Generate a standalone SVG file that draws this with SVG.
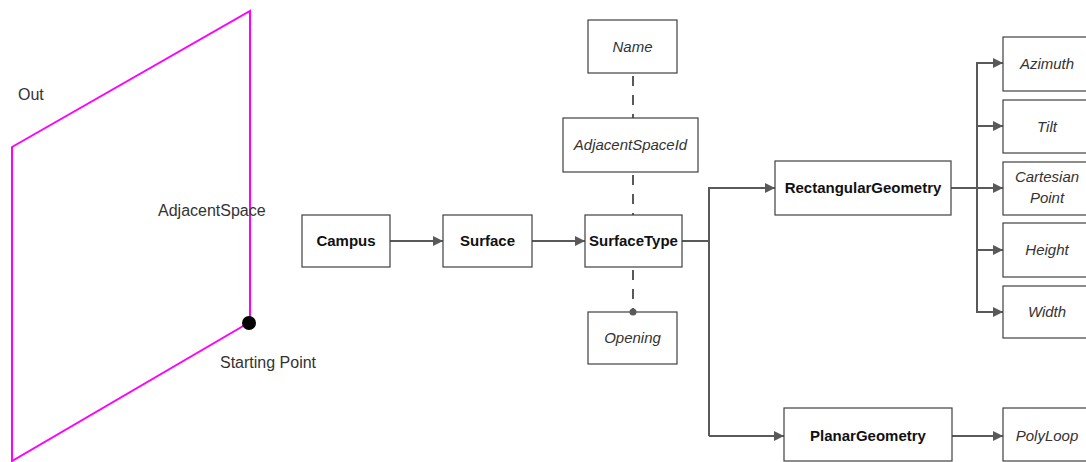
<svg xmlns="http://www.w3.org/2000/svg" width="1086" height="462" viewBox="0 0 1086 462">
<defs>
<marker id="ah" viewBox="0 0 10 10" refX="10" refY="5" markerWidth="5" markerHeight="5" orient="auto" markerUnits="strokeWidth">
<path d="M0,0 L10,5 L0,10 z" fill="#595959"/>
</marker>
<style>
.box{fill:#fff;stroke:#404040;stroke-width:1.2}
.t{font-family:"Liberation Sans",Arial,sans-serif;font-size:15px;fill:#262626;text-anchor:middle}
.b{font-weight:bold;fill:#111}
.i{font-style:italic;fill:#333}
.lbl{font-family:"Liberation Sans",Arial,sans-serif;font-size:16px;fill:#333}
.c{fill:none;stroke:#595959;stroke-width:2}
.d{fill:none;stroke:#595959;stroke-width:2;stroke-dasharray:10,9}
</style>
</defs>
<rect width="1086" height="462" fill="#fff"/>
<g id="adjacent-space-plane">
<polygon points="12,147 250,11 250,322 12,461" fill="none" stroke="#ff00ff" stroke-width="2"/>
<circle cx="249" cy="323" r="7" fill="#000"/>
<text class="lbl" x="18" y="100">Out</text>
<text class="lbl" x="158" y="216">AdjacentSpace</text>
<text class="lbl" x="220" y="368">Starting Point</text>
</g>
<g id="connectors">
<line class="c" x1="390" y1="241" x2="443" y2="241" marker-end="url(#ah)"/>
<line class="c" x1="532" y1="241" x2="585" y2="241" marker-end="url(#ah)"/>
<line class="d" x1="633" y1="76" x2="633" y2="118"/>
<line class="d" x1="633" y1="175" x2="633" y2="215"/>
<line class="d" x1="633" y1="270" x2="633" y2="312"/>
<line class="c" x1="682" y1="241" x2="709" y2="241" stroke-width="2.5"/>
<polyline class="c" points="709,436 709,188 775,188" marker-end="url(#ah)"/>
<line class="c" x1="709" y1="436" x2="784" y2="436" marker-end="url(#ah)"/>
<line class="c" x1="951" y1="188" x2="977" y2="188" stroke-width="2.5"/>
<line class="c" x1="977" y1="63" x2="977" y2="312"/>
<line class="c" x1="976" y1="63" x2="1003" y2="63" marker-end="url(#ah)"/>
<line class="c" x1="976" y1="126" x2="1003" y2="126" marker-end="url(#ah)"/>
<line class="c" x1="976" y1="188" x2="1003" y2="188" marker-end="url(#ah)"/>
<line class="c" x1="976" y1="250" x2="1003" y2="250" marker-end="url(#ah)"/>
<line class="c" x1="976" y1="312" x2="1003" y2="312" marker-end="url(#ah)"/>
<line class="c" x1="952" y1="436" x2="1003" y2="436" marker-end="url(#ah)"/>
</g>
<g id="campus"><rect class="box" x="302" y="215" width="88" height="52"/><text class="t b" x="346" y="246">Campus</text></g>
<g id="surface"><rect class="box" x="443" y="215" width="89" height="52"/><text class="t b" x="487.5" y="246">Surface</text></g>
<g id="surfacetype"><rect class="box" x="585" y="215" width="97" height="52"/><text class="t b" x="633.5" y="246">SurfaceType</text></g>
<g id="name"><rect class="box" x="588" y="20" width="89" height="53"/><text class="t i" x="632.5" y="52">Name</text></g>
<g id="adjacentspaceid"><rect class="box" x="563" y="118" width="135" height="54"/><text class="t i" x="630.5" y="150">AdjacentSpaceId</text></g>
<g id="opening"><rect class="box" x="588" y="312" width="89" height="52"/><text class="t i" x="632.5" y="343">Opening</text><circle cx="633" cy="312" r="3.5" fill="#595959"/></g>
<g id="rectangulargeometry"><rect class="box" x="775" y="161" width="176" height="54"/><text class="t b" x="863" y="193">RectangularGeometry</text></g>
<g id="planargeometry"><rect class="box" x="784" y="408" width="168" height="53"/><text class="t b" x="868" y="441">PlanarGeometry</text></g>
<g id="azimuth"><rect class="box" x="1003" y="37" width="88" height="54"/><text class="t i" x="1047" y="69">Azimuth</text></g>
<g id="tilt"><rect class="box" x="1003" y="100" width="88" height="53"/><text class="t i" x="1047" y="132">Tilt</text></g>
<g id="cartesianpoint"><rect class="box" x="1003" y="162" width="88" height="53"/><text class="t i" x="1047" y="182">Cartesian</text><text class="t i" x="1047" y="203">Point</text></g>
<g id="height"><rect class="box" x="1003" y="223" width="88" height="54"/><text class="t i" x="1047" y="255">Height</text></g>
<g id="width"><rect class="box" x="1003" y="286" width="88" height="52"/><text class="t i" x="1047" y="317">Width</text></g>
<g id="polyloop"><rect class="box" x="1003" y="408" width="88" height="53"/><text class="t i" x="1047" y="441">PolyLoop</text></g>
</svg>
